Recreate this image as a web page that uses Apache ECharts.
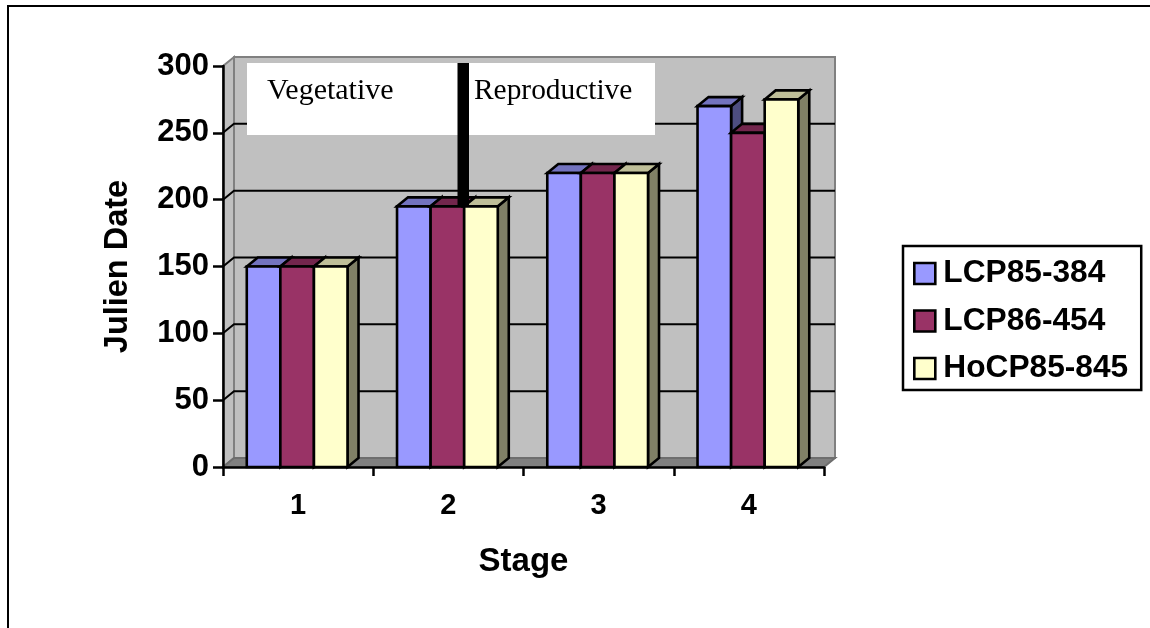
<!DOCTYPE html>
<html><head><meta charset="utf-8">
<style>html,body{margin:0;padding:0;background:#fff}#c{width:1150px;height:628px}</style>
<script src="https://cdn.jsdelivr.net/npm/echarts@6/dist/echarts.min.js"></script>
</head><body><div id="c"></div>
<script>
const stages = ['1','2','3','4'];
const seriesNames = ['LCP85-384','LCP86-454','HoCP85-845'];
const lcp85384 = [150,195,220,270];
const lcp86454 = [150,195,220,250];
const hocp85845 = [150,195,220,275];
const gridValues = [50,100,150,200,250];
const frontColors = ['#9999FF','#993366','#FFFFCC'];
const topColors = ['#7373BF','#73264D','#BFBF99'];
const sideColors = ['#4D4D80','#4D1A33','#808066'];

const DX = 11, DY = -9, SANS = '"Liberation Sans", Arial, sans-serif', SERIF = '"Liberation Serif", "Times New Roman", serif';
const chart = echarts.init(document.getElementById('c'));

function wallRender(params, api){
  const c = params.coordSys, l=c.x, r=c.x+c.width, t=c.y, b=c.y+c.height;
  const kids = [
    {type:'polygon',shape:{points:[[l,t],[l+DX,t+DY],[l+DX,b+DY],[l,b]]},style:{fill:'#C0C0C0',stroke:'#808080',lineWidth:2}},
    {type:'polygon',shape:{points:[[l+DX,t+DY],[r+DX,t+DY],[r+DX,b+DY],[l+DX,b+DY]]},style:{fill:'#C0C0C0',stroke:'#808080',lineWidth:2}},
    {type:'polygon',shape:{points:[[l,b],[l+DX,b+DY],[r+DX,b+DY],[r,b]]},style:{fill:'#808080',stroke:'#6E6E6E',lineWidth:2}}
  ];
  gridValues.forEach(v=>{
    const y = api.coord([0,v])[1];
    kids.push({type:'polyline',shape:{points:[[l,y],[l+DX,y+DY],[r+DX,y+DY]]},style:{fill:null,stroke:'#000',lineWidth:2}});
  });
  return {type:'group',children:kids};
}

function barRender(si){
  return function(params, api){
    const p = api.coord([api.value(0), api.value(1)]);
    const z = api.coord([api.value(0), 0]);
    const band = api.size([1,0])[0];
    const w = band*0.2235;
    const x0 = p[0]-band*0.0065-1.5*w+si*w, x1=x0+w, yt=p[1], yb=z[1];
    const st = f=>({fill:f,stroke:'#000',lineWidth:2.6,lineJoin:'miter'});
    return {type:'group',children:[
      {type:'polygon',shape:{points:[[x1,yt],[x1+DX,yt+DY],[x1+DX,yb+DY],[x1,yb]]},style:st(sideColors[si])},
      {type:'polygon',shape:{points:[[x0,yt],[x0+DX,yt+DY],[x1+DX,yt+DY],[x1,yt]]},style:st(topColors[si])},
      {type:'rect',shape:{x:x0,y:yt,width:w,height:yb-yt},style:st(frontColors[si])}
    ]};
  };
}

const values = [lcp85384,lcp86454,hocp85845];
chart.setOption({
  animation:false,
  backgroundColor:'#fff',
  grid:{left:223,top:66,width:601,height:401,containLabel:false},
  legend:{
    orient:'vertical',left:903,top:246,
    padding:[10,13,4,10],itemGap:12.5,itemWidth:21,itemHeight:21,
    backgroundColor:'#fff',borderColor:'#000',borderWidth:2.5,borderRadius:0,
    icon:'rect',selectedMode:false,
    itemStyle:{borderColor:'#000',borderWidth:2.6},
    textStyle:{fontFamily:SANS,fontWeight:'bold',fontSize:31.7,color:'#000',lineHeight:35,padding:[0,0,0,3]},
    data:seriesNames
  },
  xAxis:{
    type:'category',data:stages,z:3,
    name:'Stage',nameLocation:'middle',nameGap:78,
    nameTextStyle:{fontFamily:SANS,fontWeight:'bold',fontSize:33,color:'#000'},
    axisLine:{onZero:false,lineStyle:{color:'#000',width:2.5}},
    axisTick:{show:true,length:9,lineStyle:{color:'#000',width:2.5}},
    axisLabel:{fontFamily:SANS,fontWeight:'bold',fontSize:29,color:'#000',margin:24},
    splitLine:{show:false}
  },
  yAxis:{
    type:'value',min:0,max:300,interval:50,z:3,
    name:'Julien Date',nameLocation:'middle',nameGap:88,nameRotate:90,
    nameTextStyle:{fontFamily:SANS,fontWeight:'bold',fontSize:32.5,color:'#000'},
    axisLine:{show:true,lineStyle:{color:'#000',width:2.5}},
    axisTick:{show:true,length:10,lineStyle:{color:'#000',width:2.5}},
    axisLabel:{fontFamily:SANS,fontWeight:'bold',fontSize:31,color:'#000',margin:14,padding:[5,0,0,0]},
    splitLine:{show:false}
  },
  series:[
    {type:'custom',name:'wall',z:1,silent:true,data:[[0,0]],encode:{x:0,y:1},renderItem:wallRender},
    ...seriesNames.map((n,si)=>({
      type:'custom',name:n,z:4+si,
      itemStyle:{color:frontColors[si],borderColor:'#000',borderWidth:2.6},
      data:values[si].map((v,i)=>[i,v]),
      encode:{x:0,y:1},
      renderItem:barRender(si)
    }))
  ],
  graphic:[
    {type:'polyline',z:100,shape:{points:[[8,628],[8,6],[1150,6]]},style:{fill:null,stroke:'#000',lineWidth:2}},
    {type:'rect',z:100,shape:{x:247,y:63,width:408,height:72},style:{fill:'#fff'}},
    {type:'rect',z:101,shape:{x:457.5,y:63,width:11.5,height:144},style:{fill:'#000'}},
    {type:'text',z:102,x:267,y:76,style:{text:'Vegetative',font:'30px '+SERIF,fill:'#000',textVerticalAlign:'top'}},
    {type:'text',z:102,x:474,y:77,style:{text:'Reproductive',font:'29.4px '+SERIF,fill:'#000',textVerticalAlign:'top'}}
  ]
});
</script></body></html>
